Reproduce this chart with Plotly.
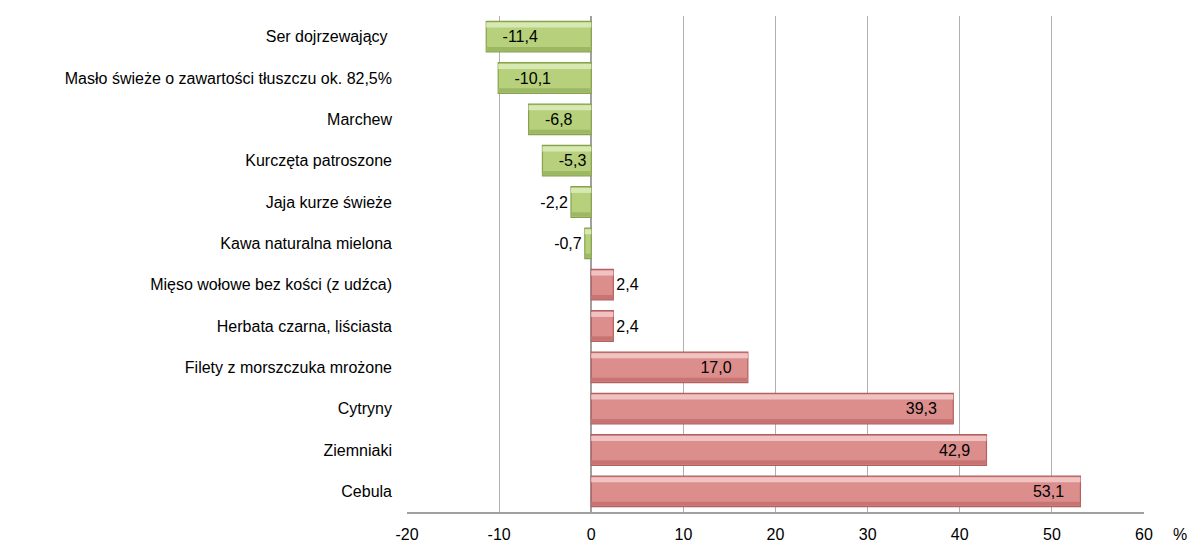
import plotly.graph_objects as go

categories = ["Cebula", "Ziemniaki", "Cytryny", "Filety z morszczuka mrożone",
              "Herbata czarna, liściasta", "Mięso wołowe bez kości (z udźca)",
              "Kawa naturalna mielona", "Jaja kurze świeże", "Kurczęta patroszone",
              "Marchew", "Masło świeże o zawartości tłuszczu ok. 82,5%", "Ser dojrzewający "]
values = [53.1, 42.9, 39.3, 17.0, 2.4, 2.4, -0.7, -2.2, -5.3, -6.8, -10.1, -11.4]
tick_vals = [-20, -10, 0, 10, 20, 30, 40, 50, 60]
tick_text = ["-20", "-10", "0", "10", "20", "30", "40", "50", "60"]

pad = "\u00a0" * 3
labels = []
positions = []
for v in values:
    s = f"{v:.1f}".replace(".", ",")
    if abs(v) < 4:
        positions.append("outside")
        labels.append(s)
    else:
        positions.append("inside")
        labels.append(pad + s if v < 0 else s + pad)

fill = ["#dc8e8d" if v > 0 else "#b6d07c" for v in values]
edge = ["#b06160" if v > 0 else "#86a24e" for v in values]
light = ["#f0c3c2" if v > 0 else "#d8e8b2" for v in values]
dark = ["#c77473" if v > 0 else "#9cb864" for v in values]

fig = go.Figure()
fig.add_trace(go.Bar(
    x=values, y=categories, orientation="h",
    marker=dict(color=fill, line=dict(color=edge, width=1.2)),
    width=0.74, hoverinfo="skip",
))
# bevel highlight (top) and shade (bottom)
fig.add_trace(go.Bar(
    x=values, y=categories, orientation="h",
    marker=dict(color=light, line=dict(width=0)),
    width=0.12, offset=0.22, hoverinfo="skip",
))
fig.add_trace(go.Bar(
    x=values, y=categories, orientation="h",
    marker=dict(color=dark, line=dict(width=0)),
    width=0.1, offset=-0.35, hoverinfo="skip",
))
fig.add_trace(go.Bar(
    x=values, y=categories, orientation="h",
    marker=dict(color="rgba(0,0,0,0)", line=dict(width=0)),
    text=labels, textposition=positions, insidetextanchor="end",
    textfont=dict(family="Liberation Sans", size=16, color="black"),
    cliponaxis=False, width=0.74,
))

fig.update_layout(
    width=1188, height=543, barmode="overlay",
    margin=dict(l=407, r=44, t=16, b=31),
    paper_bgcolor="white", plot_bgcolor="white",
    showlegend=False,
    font=dict(family="Liberation Sans", size=16, color="black"),
    xaxis=dict(range=[-20, 60], tickvals=tick_vals, ticktext=tick_text,
               showgrid=True, gridcolor="#b0b0b0", gridwidth=1, zeroline=True,
               zerolinecolor="#a0a0a0", zerolinewidth=2,
               showline=True, linecolor="#a0a0a0", linewidth=2,
               ticks="", ticklabelstandoff=7, tickfont=dict(size=16), automargin=False),
    yaxis=dict(showgrid=False, zeroline=False, ticks="", ticklabelstandoff=14,
               categoryorder="array", categoryarray=categories,
               tickfont=dict(size=16), automargin=False),
    annotations=[dict(text="%", x=1.0, xref="paper", xanchor="center", xshift=36,
                      y=0, yref="paper", yanchor="middle", yshift=-22,
                      showarrow=False, font=dict(family="Liberation Sans", size=16))],
)

fig.write_html("out.html", config={"displayModeBar": False},
               post_script="document.body.style.margin='0';document.body.style.overflow='hidden';")
